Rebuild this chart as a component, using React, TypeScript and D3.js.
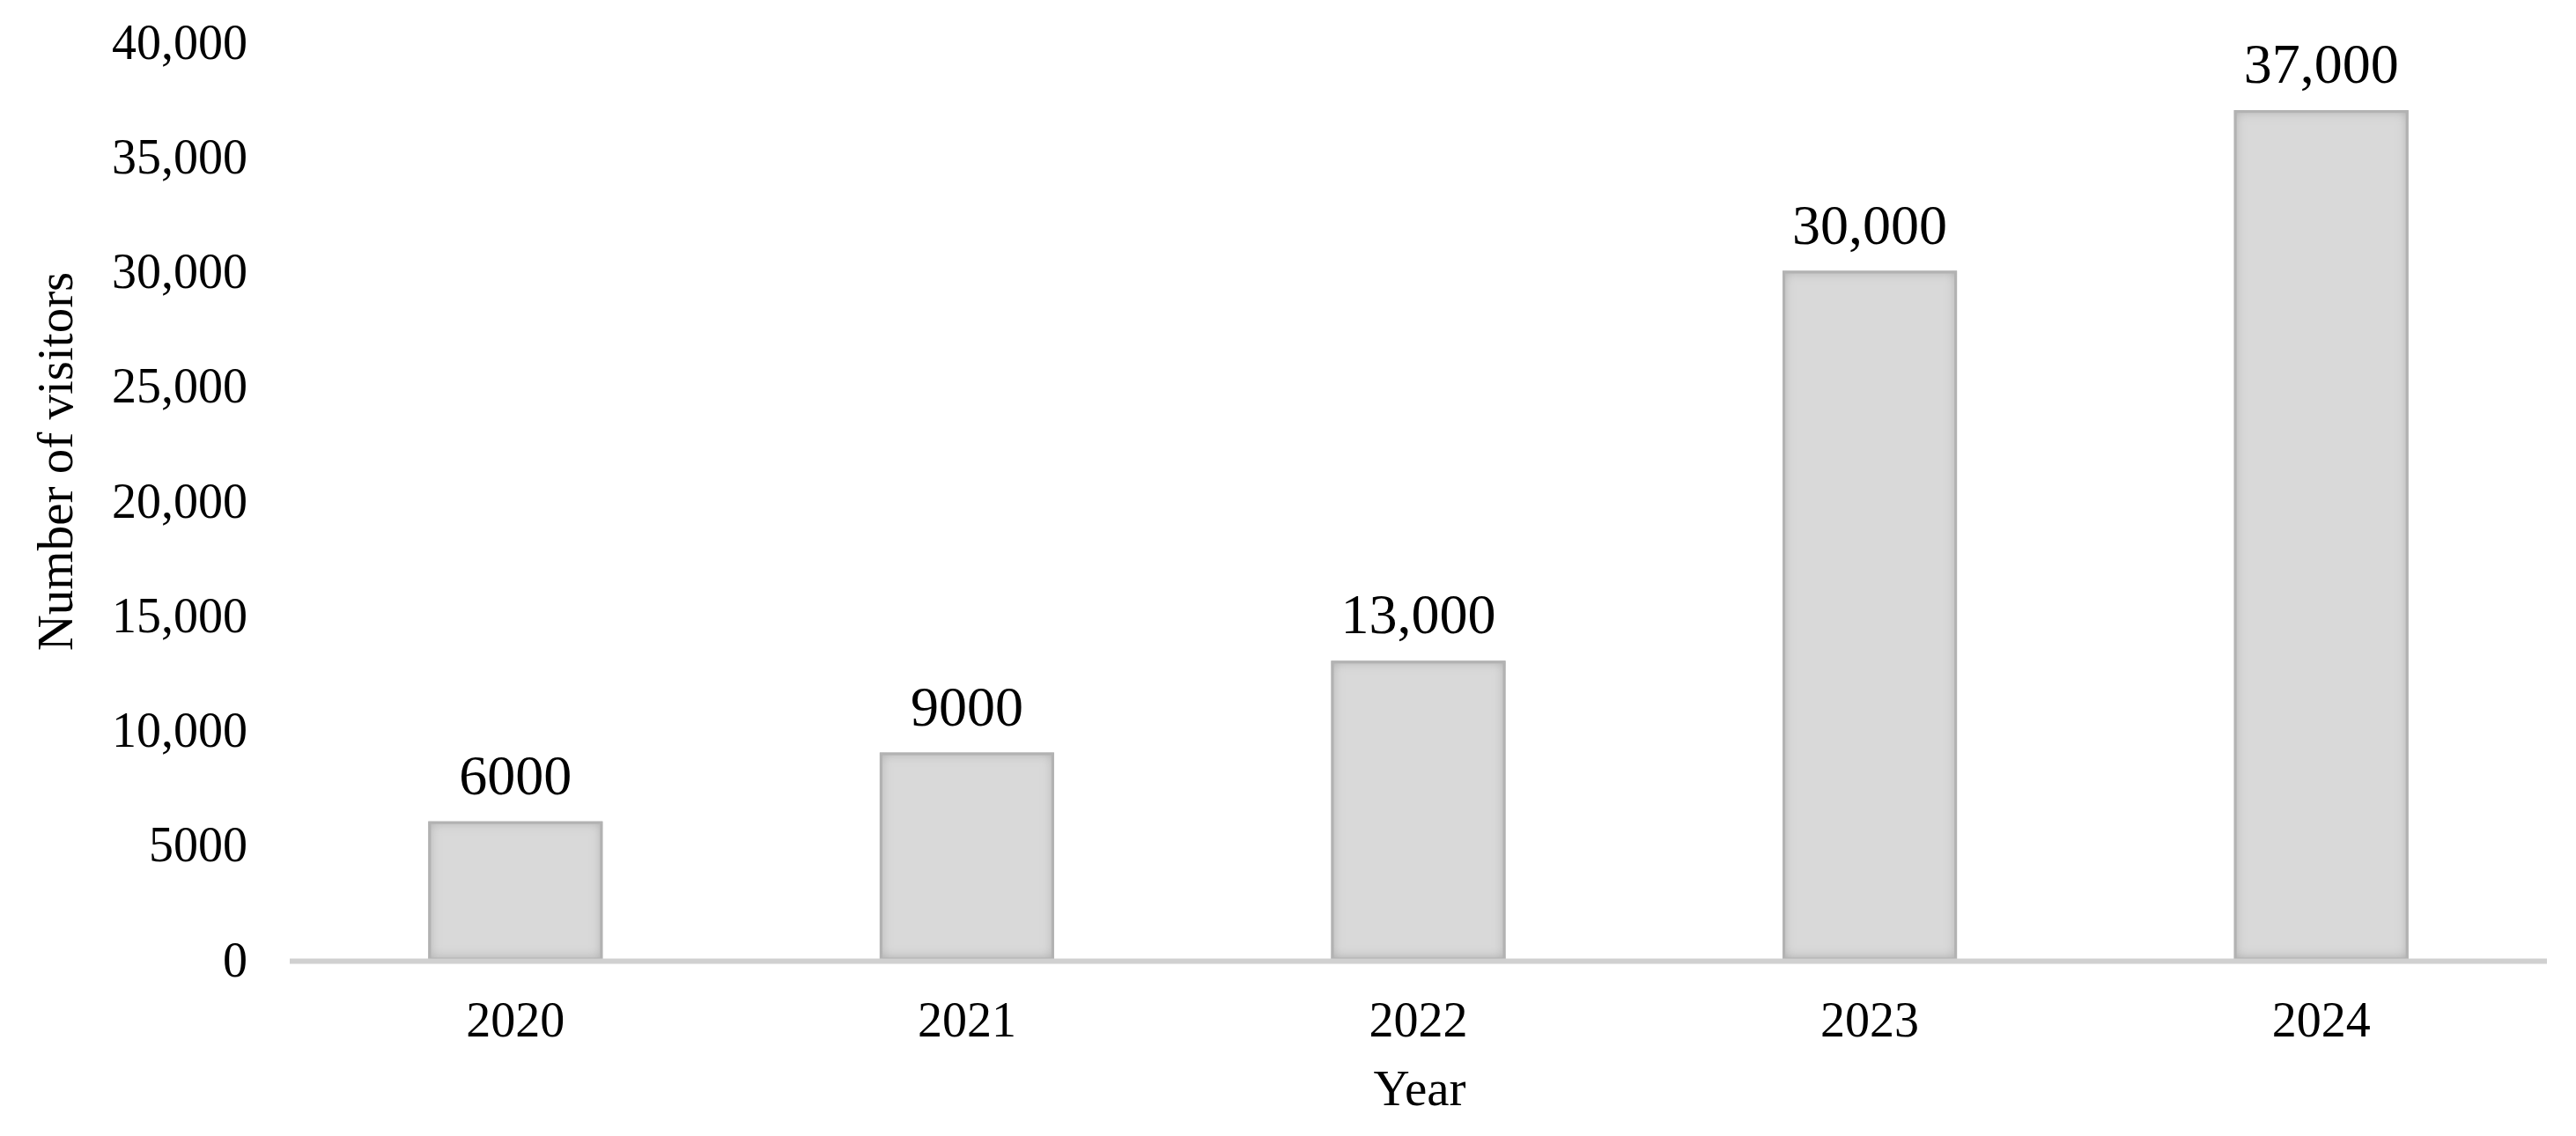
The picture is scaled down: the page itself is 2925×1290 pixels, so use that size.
import React from "react";
import * as d3 from "d3";

const years = ["2020", "2021", "2022", "2023", "2024"];
const visitors = [6000, 9000, 13000, 30000, 37000];
const yTicks = [0, 5000, 10000, 15000, 20000, 25000, 30000, 35000, 40000];
const xTitle = "Year";
const yTitle = "Number of visitors";

const W = 2925;
const H = 1290;
const FONT = "'Liberation Serif', 'Times New Roman', serif";

const fmt = (v: number) => (v >= 10000 ? d3.format(",")(v) : String(v));

export default function App() {
  const x = d3.scaleBand<string>().domain(years).range([329, 2892]).paddingInner(0).paddingOuter(0);
  const y = d3.scaleLinear().domain([0, 40000]).range([1089, 47]);
  const barW = 198;

  return (
    <svg
      width={W}
      height={H}
      viewBox={`0 0 ${W} ${H}`}
      style={{ position: "absolute", left: 0, top: 0, background: "#fff" }}
    >
      <defs>
        <filter id="innerShade" x="-5%" y="-5%" width="110%" height="110%">
          <feFlood floodColor="#9a9a9a" result="flood" />
          <feComposite in="flood" in2="SourceAlpha" operator="out" result="outside" />
          <feGaussianBlur in="outside" stdDeviation="7" result="blur" />
          <feComposite in="blur" in2="SourceAlpha" operator="in" result="shadow" />
          <feMerge>
            <feMergeNode in="SourceGraphic" />
            <feMergeNode in="shadow" />
          </feMerge>
        </filter>
      </defs>
      <rect x={0} y={0} width={W} height={H} fill="#ffffff" />

      {/* y tick labels */}
      {yTicks.map((t) => (
        <text
          key={t}
          x={281}
          y={y(t)}
          dy="0.35em"
          textAnchor="end"
          fontFamily={FONT}
          fontSize={56}
          fill="#000"
        >
          {fmt(t)}
        </text>
      ))}

      {/* bars */}
      {years.map((yr, i) => {
        const cx = (x(yr) as number) + x.bandwidth() / 2;
        const top = y(visitors[i]);
        return (
          <g key={yr}>
            <rect
              x={cx - barW / 2}
              y={top}
              width={barW}
              height={y(0) - top}
              fill="#d9d9d9"
              filter="url(#innerShade)"
            />
            <rect
              x={cx - barW / 2 + 1.5}
              y={top + 1.5}
              width={barW - 3}
              height={y(0) - top - 1.5}
              fill="none"
              stroke="#b2b2b2"
              strokeWidth={3}
            />
            <text
              x={cx}
              y={top - 31}
              textAnchor="middle"
              fontFamily={FONT}
              fontSize={64}
              fill="#000"
            >
              {fmt(visitors[i])}
            </text>
            <text
              x={cx}
              y={1177}
              textAnchor="middle"
              fontFamily={FONT}
              fontSize={56}
              fill="#000"
            >
              {yr}
            </text>
          </g>
        );
      })}

      {/* x axis line */}
      <line x1={329} x2={2892} y1={1091.5} y2={1091.5} stroke="#d0d0d0" strokeWidth={6} />

      {/* axis titles */}
      <text
        x={1612}
        y={1255}
        textAnchor="middle"
        fontFamily={FONT}
        fontSize={57}
        fill="#000"
      >
        {xTitle}
      </text>
      <text
        transform={`translate(82, 524) rotate(-90)`}
        textAnchor="middle"
        fontFamily={FONT}
        fontSize={57}
        fill="#000"
      >
        {yTitle}
      </text>
    </svg>
  );
}
